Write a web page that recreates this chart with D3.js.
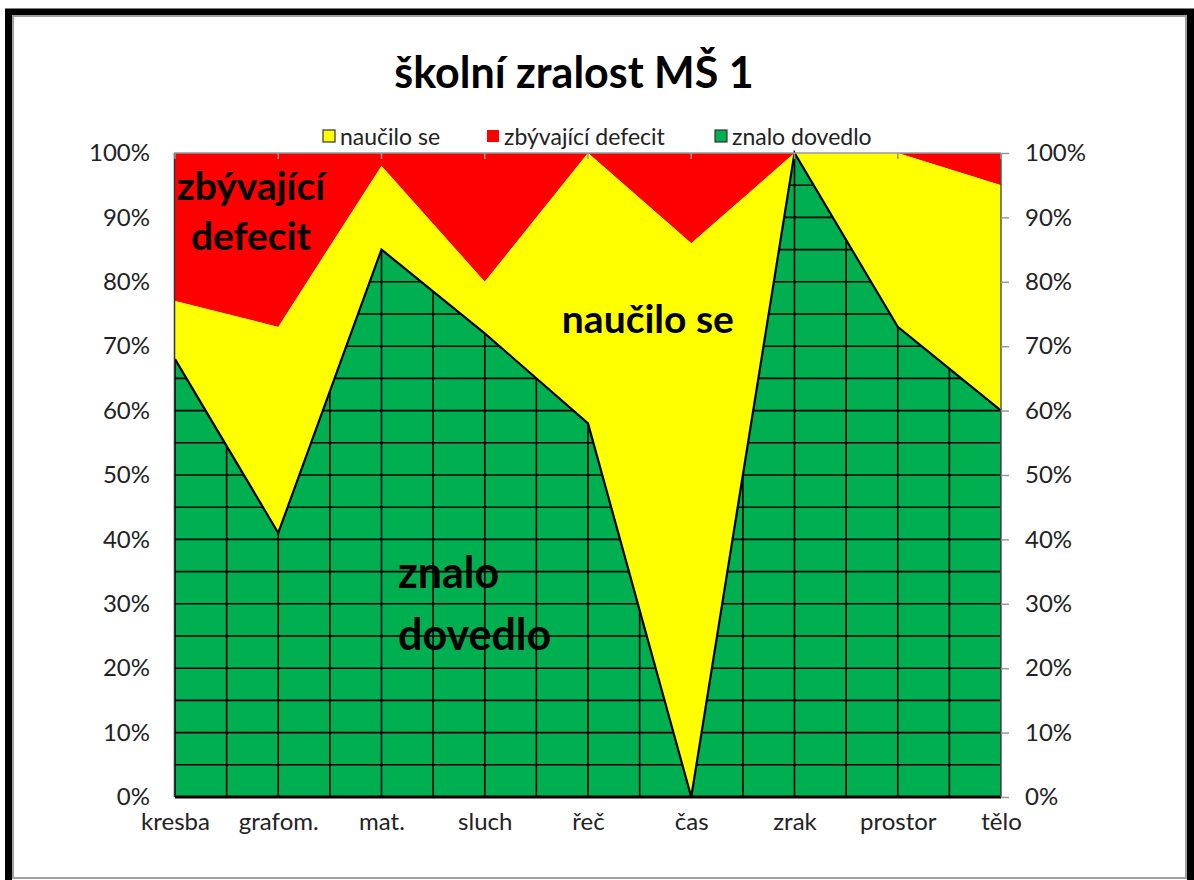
<!DOCTYPE html>
<html>
<head>
<meta charset="utf-8">
<script src="https://cdn.jsdelivr.net/npm/d3@7"></script>
<style>
  body { margin: 0; background: #fff; }
  svg { display: block; font-family: Lato, "Open Sans", sans-serif; }
</style>
</head>
<body>
<svg id="chart" width="1194" height="880"></svg>
<script>
// values (percent)
let categories = ['kresba', 'grafom.', 'mat.', 'sluch', 'řeč', 'čas', 'zrak', 'prostor', 'tělo']
let znaloDovedlo = [68, 41, 85, 72, 58, 0, 100, 73, 60]
let naucilSe = [9, 32, 13, 8, 42, 86, 0, 27, 35]
let zbyvajiciDefecit = [23, 27, 2, 20, 0, 14, 0, 0, 5]
let yTicks = [0, 10, 20, 30, 40, 50, 60, 70, 80, 90, 100]
let legendItems = ['naučilo se', 'zbývající defecit', 'znalo dovedlo']

let colors = {
  'znalo dovedlo': '#00b050',
  'naučilo se': '#ffff00',
  'zbývající defecit': '#ff0000'
}

var svg = d3.select('#chart')

// frame
svg.append('rect').attr('x', 8.5).attr('y', 12).attr('width', 1182).attr('height', 880)
  .attr('fill', 'none').attr('stroke', '#000').attr('stroke-width', 7)
svg.append('rect').attr('x', 13).attr('y', 16).attr('width', 1173).attr('height', 862)
  .attr('fill', '#fff').attr('stroke', '#a0a0a0').attr('stroke-width', 2)

let x = d3.scalePoint().domain(categories).range([175, 1001])
let y = d3.scaleLinear().domain([0, 100]).range([797, 153])

let rows = categories.map((c, i) => ({
  cat: c,
  'znalo dovedlo': znaloDovedlo[i],
  'naučilo se': naucilSe[i],
  'zbývající defecit': zbyvajiciDefecit[i]
}))
let stack = d3.stack().keys(['znalo dovedlo', 'naučilo se', 'zbývající defecit'])
let series = stack(rows)

let area = d3.area()
  .x(d => x(d.data.cat))
  .y0(d => y(d[0]))
  .y1(d => y(d[1]))

// title
svg.append('text').attr('x', 574).attr('y', 88).attr('text-anchor', 'middle')
  .attr('font-size', 43).attr('font-weight', 'bold').attr('fill', '#000')
  .text('školní zralost MŠ 1')

// areas, top series first so the outlined green sits on top
let plot = svg.append('g')
series.slice().reverse().forEach(s => {
  plot.append('path')
    .attr('d', area(s))
    .attr('fill', colors[s.key])
})

// grid pattern inside the green series
svg.append('clipPath').attr('id', 'greenClip')
  .append('path').attr('d', area(series[0]))
let grid = svg.append('g').attr('clip-path', 'url(#greenClip)')
  .attr('stroke', '#000').attr('stroke-width', 1.6)
grid.selectAll('line.h').data(d3.range(0, 101, 5)).enter().append('line')
  .attr('x1', x.range()[0]).attr('x2', x.range()[1])
  .attr('y1', d => y(d)).attr('y2', d => y(d))
let step = x.step() / 2
grid.selectAll('line.v').data(d3.range(0, categories.length * 2 - 1)).enter().append('line')
  .attr('x1', d => x.range()[0] + d * step).attr('x2', d => x.range()[0] + d * step)
  .attr('y1', y(0)).attr('y2', y(100))

// green outline
let line = d3.line().x(d => x(d.data.cat)).y(d => y(d[1]))
plot.append('path').attr('d', line(series[0]))
  .attr('fill', 'none').attr('stroke', '#000').attr('stroke-width', 2.2)
svg.append('line').attr('x1', x.range()[0]).attr('x2', x.range()[1])
  .attr('y1', y(0)).attr('y2', y(0)).attr('stroke', '#000').attr('stroke-width', 3)

// plot border and edges
svg.append('line').attr('x1', 174).attr('x2', 1001).attr('y1', y(100)).attr('y2', y(100))
  .attr('stroke', '#999').attr('stroke-width', 1.5)
svg.append('line').attr('x1', 174.5).attr('x2', 174.5).attr('y1', y(100)).attr('y2', y(0))
  .attr('stroke', '#333').attr('stroke-width', 1.5)
svg.append('line').attr('x1', 1001).attr('x2', 1001).attr('y1', y(100)).attr('y2', y(0))
  .attr('stroke', '#555').attr('stroke-width', 1.5)

// top ticks at categories
svg.append('g').selectAll('line').data(categories).enter().append('line')
  .attr('x1', d => x(d)).attr('x2', d => x(d))
  .attr('y1', y(100)).attr('y2', y(100) + 6)
  .attr('stroke', '#999').attr('stroke-width', 1.5)

// left axis labels
let leftAxis = d3.axisLeft(y).tickValues(yTicks).tickFormat(d => d + '%').tickSize(0).tickPadding(24)
let gl = svg.append('g').attr('transform', 'translate(174,0)').call(leftAxis)
gl.select('.domain').remove()
gl.selectAll('text').attr('font-size', 24).attr('fill', '#222').attr('font-family', 'Lato, sans-serif')

// right axis
let rightAxis = d3.axisRight(y).tickValues(yTicks).tickFormat(d => d + '%').tickSize(8).tickPadding(16)
let gr = svg.append('g').attr('transform', 'translate(1001,0)').call(rightAxis)
gr.select('.domain').remove()
gr.selectAll('line').attr('stroke', '#999').attr('stroke-width', 1.5)
gr.selectAll('text').attr('font-size', 24).attr('fill', '#222').attr('font-family', 'Lato, sans-serif')

// bottom axis labels
let bottomAxis = d3.axisBottom(x).tickSize(0).tickPadding(16)
let gb = svg.append('g').attr('transform', 'translate(0,' + y(0) + ')').call(bottomAxis)
gb.select('.domain').remove()
gb.selectAll('text').attr('font-size', 24).attr('fill', '#222').attr('font-family', 'Lato, sans-serif')

// legend
let legend = svg.append('g').attr('font-size', 23).attr('fill', '#222')
let lx = [323, 487, 715]
legendItems.forEach((name, i) => {
  legend.append('rect').attr('x', lx[i]).attr('y', 130).attr('width', 12).attr('height', 12)
    .attr('fill', colors[name])
    .attr('stroke', name === 'zbývající defecit' ? 'none' : '#333').attr('stroke-width', 1.2)
  legend.append('text').attr('x', lx[i] + 17).attr('y', 145).attr('fill', '#222').text(name)
})

// annotations inside the chart
let notes = [
  { text: 'zbývající', cx: 0.736, cy: 92.7, size: 39, anchor: 'middle' },
  { text: 'defecit', cx: 0.736, cy: 84.9, size: 39, anchor: 'middle' },
  { text: 'naučilo se', cx: 4.58, cy: 72.0, size: 39, anchor: 'middle' },
  { text: 'znalo', cx: 2.16, cy: 32.5, size: 43, anchor: 'start' },
  { text: 'dovedlo', cx: 2.16, cy: 22.8, size: 43, anchor: 'start' }
]
svg.append('g').selectAll('text').data(notes).enter().append('text')
  .attr('x', d => x.range()[0] + d.cx * x.step())
  .attr('y', d => y(d.cy))
  .attr('text-anchor', d => d.anchor)
  .attr('font-weight', 'bold')
  .attr('font-size', d => d.size)
  .attr('fill', '#000')
  .text(d => d.text)
</script>
</body>
</html>
